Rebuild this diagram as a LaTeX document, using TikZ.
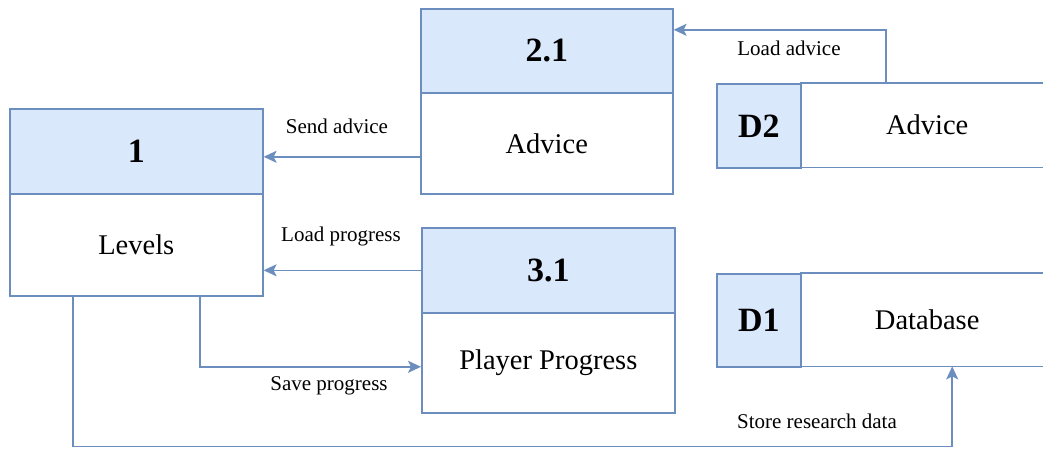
\documentclass[tikz,border=0pt]{standalone}
\usepackage{fontspec}
\setmainfont{Liberation Serif}
\usetikzlibrary{arrows.meta}
\definecolor{edge}{HTML}{6C8EBF}
\definecolor{head}{HTML}{DAE8FC}
\tikzset{
  box/.style={draw=edge, line width=1.6pt, rectangle, inner sep=0pt, anchor=north west},
  hdr/.style={box, fill=head, font=\fontsize{34}{40}\selectfont\bfseries},
  bdy/.style={box, fill=white, font=\fontsize{28.5}{34}\selectfont},
  storeid/.style={box, fill=head, minimum width=84pt, font=\fontsize{34}{40}\selectfont\bfseries},
  storename/.style={rectangle, inner sep=0pt, anchor=north west, minimum width=254pt, font=\fontsize{28.5}{34}\selectfont},
  flow/.style={draw=edge, line width=1.6pt, -{Stealth[length=13pt, width=12pt, inset=3pt]}},
  lbl/.style={font=\fontsize{21}{25}\selectfont, inner sep=1pt}
}
\begin{document}
\begin{tikzpicture}[x=1pt, y=-1pt]
\clip (0,0) rectangle (1043,449);
\fill[white] (0,0) rectangle (1043,449);

% process 1: Levels
\node[hdr, minimum width=253pt, minimum height=85pt] (p1h) at (9,108) {1};
\node[bdy, minimum width=253pt, minimum height=102pt] (p1b) at (9,193) {Levels};

% process 2.1: Advice
\node[hdr, minimum width=252pt, minimum height=84pt] (p21h) at (420,8) {2.1};
\node[bdy, minimum width=252pt, minimum height=101pt] (p21b) at (420,92) {\raisebox{-3pt}{Advice}};

% process 3.1: Player Progress
\node[hdr, minimum width=253pt, minimum height=85pt] (p31h) at (421,227) {3.1};
\node[bdy, minimum width=253pt, minimum height=100pt] (p31b) at (421,312) {\raisebox{-2pt}{Player Progress}};

% data store D2
\node[storeid, minimum height=84pt] (d2i) at (716,83) {D2};
\node[storename, minimum height=84pt] (d2n) at (800,83) {Advice};
\draw[edge, line width=1.6pt] (d2n.north west) -- (d2n.north east) (d2n.south west) -- (d2n.south east);

% data store D1
\node[storeid, minimum height=93pt] (d1i) at (716,273) {D1};
\node[storename, minimum height=93pt] (d1n) at (800,273) {Database};
\draw[edge, line width=1.6pt] (d1n.north west) -- (d1n.north east) (d1n.south west) -- (d1n.south east);

% flows
\coordinate (sa) at ([yshift=-13.5pt]p21b.west);
\draw[flow] (sa) -- (sa -| p1h.east);
\draw[flow] (p31h.west) -- (p31h.west -| p1b.east);
\draw[flow] ([xshift=63.5pt]p1b.south) |- ([yshift=-4pt]p31b.west);
\coordinate (srin) at ([xshift=25pt]d1n.south);
\draw[flow] ([xshift=-63.5pt]p1b.south) -- ++(0,150) -| (srin);
\draw[flow] ([xshift=-41pt]d2n.north) |- ([yshift=21pt]p21h.east);

% flow labels
\node[lbl] (l1) at (337,126) {Send advice};
\node[lbl] (l2) at (341,236) {Load progress};
\node[lbl] (l3) at (329,386) {Save progress};
\node[lbl] (l4) at (817,421) {Store research data};
\node[lbl] (l5) at (789,48) {Load advice};
\end{tikzpicture}
\end{document}
